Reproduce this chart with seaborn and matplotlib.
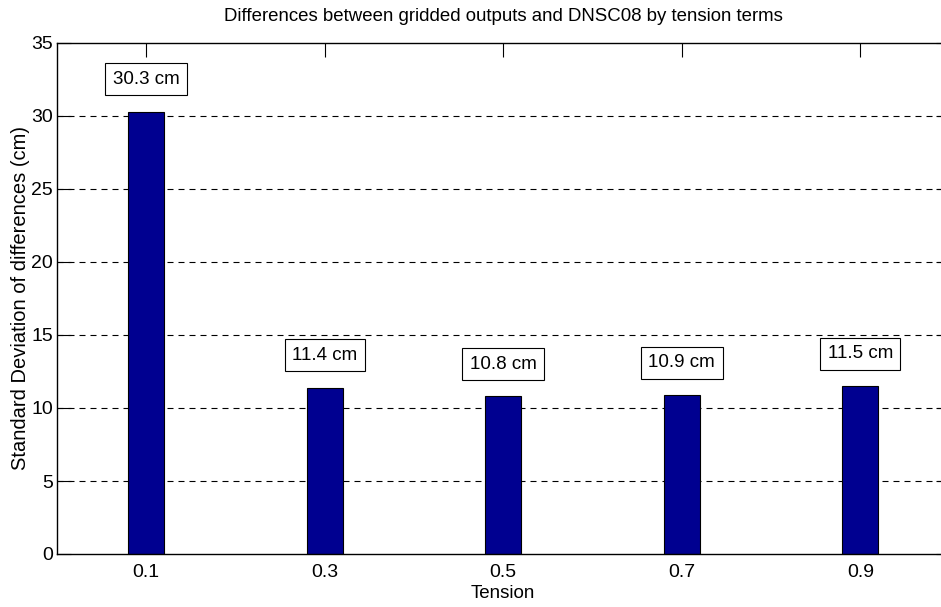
import matplotlib
matplotlib.use("Agg")
import matplotlib.pyplot as plt
import seaborn as sns
import pandas as pd

tension = ["0.1", "0.3", "0.5", "0.7", "0.9"]
std_dev = [30.3, 11.4, 10.8, 10.9, 11.5]
labels = ["30.3 cm", "11.4 cm", "10.8 cm", "10.9 cm", "11.5 cm"]
yticks = [0, 5, 10, 15, 20, 25, 30, 35]

sns.set_theme(style="white")
plt.rcParams["font.family"] = ["Liberation Sans", "DejaVu Sans"]
plt.rcParams["text.color"] = "black"

df = pd.DataFrame({"Tension": tension, "std": std_dev})

fig = plt.figure(figsize=(9.41, 6.07), dpi=100)
ax = fig.add_axes([57 / 941, 53 / 607, 892.5 / 941, 511 / 607])

sns.barplot(data=df, x="Tension", y="std", order=tension, color="#000090",
            saturation=1, width=0.2, edgecolor="black", linewidth=0.8, ax=ax)

ax.set_xlim(-0.5, 4.5)
ax.set_ylim(0, 35)
ax.set_yticks(yticks)
ax.set_yticklabels([str(v) for v in yticks])

for y in yticks[1:-1]:
    ax.axhline(y, color="black", lw=0.8, ls=(0, (5.4, 4.5)), zorder=0)

for i, (v, lab) in enumerate(zip(std_dev, labels)):
    ax.text(i, v + 2.2, lab, ha="center", va="center", fontsize=13.5, color="black",
            bbox=dict(boxstyle="square,pad=0.4", fc="white", ec="black", lw=0.8))

for s in ax.spines.values():
    s.set_visible(True)
    s.set_color("black")
    s.set_linewidth(1.0)

ax.tick_params(axis="both", which="major", direction="in", length=10, width=0.8,
               color="black", labelsize=14, labelcolor="black")
ax.tick_params(axis="x", top=True, bottom=True, pad=7)
ax.tick_params(axis="y", left=True, right=True, pad=3)

ax.set_xlabel("Tension", fontsize=13.5, color="black", labelpad=3)
ax.set_ylabel("Standard Deviation of differences (cm)", fontsize=14.5, color="black", labelpad=1)
ax.set_title("Differences between gridded outputs and DNSC08 by tension terms",
             fontsize=13.4, color="black", pad=16)

fig.savefig("out.png", dpi=100)
